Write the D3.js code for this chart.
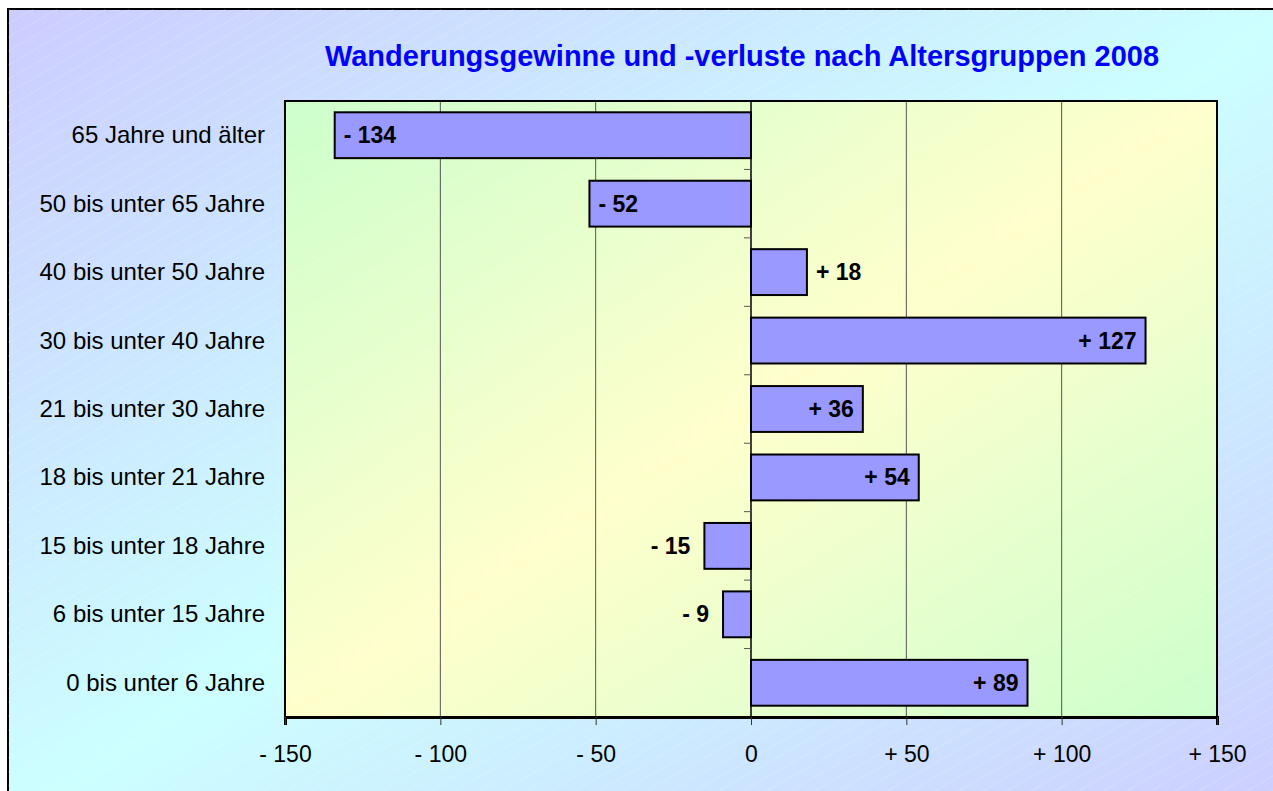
<!DOCTYPE html>
<html>
<head>
<meta charset="utf-8">
<script src="https://cdn.jsdelivr.net/npm/d3@7"></script>
<style>
  body { margin: 0; background: #fff; }
  text { font-family: "Liberation Sans", Arial, sans-serif; }
</style>
</head>
<body>
<div id="chart"></div>
<script>
// categories from top to bottom
var categories = ["65 Jahre und älter", "50 bis unter 65 Jahre", "40 bis unter 50 Jahre",
    "30 bis unter 40 Jahre", "21 bis unter 30 Jahre", "18 bis unter 21 Jahre",
    "15 bis unter 18 Jahre", "6 bis unter 15 Jahre", "0 bis unter 6 Jahre"];
var values = [-134, -52, 18, 127, 36, 54, -15, -9, 89];
var tickValues = [-150, -100, -50, 0, 50, 100, 150];
var title = "Wanderungsgewinne und -verluste nach Altersgruppen 2008";

function fmt(v) {
    if (v > 0) return "+ " + v;
    if (v < 0) return "- " + Math.abs(v);
    return "0";
}

function draw_chart(element) {
    var W = 1273, H = 791;
    var plot = {left: 285, right: 1217, top: 101, bottom: 717};

    var svg = d3.select("#" + element).append("svg").attr("width", W).attr("height", H);
    var defs = svg.append("defs");

    var bg = defs.append("linearGradient").attr("id", "bg")
        .attr("x1", "0").attr("y1", "0").attr("x2", "1").attr("y2", "1");
    bg.append("stop").attr("offset", "0").attr("stop-color", "#ccccff");
    bg.append("stop").attr("offset", "0.5").attr("stop-color", "#ccffff");
    bg.append("stop").attr("offset", "1").attr("stop-color", "#ccccff");

    var pg = defs.append("linearGradient").attr("id", "pg")
        .attr("x1", "0").attr("y1", "0").attr("x2", "1").attr("y2", "1");
    pg.append("stop").attr("offset", "0").attr("stop-color", "#ccffcc");
    pg.append("stop").attr("offset", "0.5").attr("stop-color", "#ffffcc");
    pg.append("stop").attr("offset", "1").attr("stop-color", "#ccffcc");

    var hatch = defs.append("pattern").attr("id", "hatch")
        .attr("patternUnits", "userSpaceOnUse").attr("width", 12).attr("height", 12)
        .attr("patternTransform", "rotate(-30)");
    hatch.append("line").attr("x1", 0).attr("y1", 0).attr("x2", 12).attr("y2", 0)
        .attr("stroke", "#ffffff").attr("stroke-width", 1).attr("stroke-opacity", 0.3);

    // chart area background
    svg.append("rect").attr("x", 8).attr("y", 9).attr("width", W + 20).attr("height", H + 20)
        .attr("fill", "url(#bg)").attr("stroke", "#000").attr("stroke-width", 2);
    svg.append("rect").attr("x", 8).attr("y", 9).attr("width", W).attr("height", H)
        .attr("fill", "url(#hatch)");

    svg.append("text")
        .attr("x", 742).attr("y", 66)
        .attr("text-anchor", "middle")
        .attr("font-size", 29).attr("font-weight", "bold")
        .attr("fill", "#0000ff")
        .text(title);

    var x = d3.scaleLinear().domain([-150, 150]).range([plot.left, plot.right]);
    var y = d3.scaleBand().domain(categories).range([plot.top, plot.bottom])
        .paddingInner(0.33).paddingOuter(0.165);

    // plot area
    svg.append("rect").attr("x", plot.left).attr("y", plot.top)
        .attr("width", plot.right - plot.left).attr("height", plot.bottom - plot.top)
        .attr("fill", "url(#pg)");
    svg.append("rect").attr("x", plot.left).attr("y", plot.top)
        .attr("width", plot.right - plot.left).attr("height", plot.bottom - plot.top)
        .attr("fill", "url(#hatch)");

    // gridlines
    svg.append("g").selectAll("line")
        .data(tickValues.filter(function (d) { return d !== 0 && Math.abs(d) !== 150; }))
        .enter().append("line")
        .attr("x1", function (d) { return x(d); }).attr("x2", function (d) { return x(d); })
        .attr("y1", plot.top).attr("y2", plot.bottom)
        .attr("stroke", "#555").attr("stroke-width", 1);

    svg.append("rect").attr("x", plot.left).attr("y", plot.top)
        .attr("width", plot.right - plot.left).attr("height", plot.bottom - plot.top)
        .attr("fill", "none").attr("stroke", "#000").attr("stroke-width", 2);

    // x axis
    var xAxis = svg.append("g")
        .attr("transform", "translate(0," + plot.bottom + ")")
        .call(d3.axisBottom(x).tickValues(tickValues).tickFormat(fmt).tickSize(8).tickPadding(21));
    xAxis.select(".domain").attr("stroke", "#000").attr("stroke-width", 3);
    xAxis.selectAll(".tick line").attr("stroke", "#333").attr("stroke-width", 1);
    xAxis.selectAll("text").attr("font-size", 23).attr("fill", "#000")
        .attr("font-family", "Liberation Sans, Arial, sans-serif");

    // zero axis with ticks between categories
    svg.append("line").attr("x1", x(0)).attr("x2", x(0))
        .attr("y1", plot.top).attr("y2", plot.bottom)
        .attr("stroke", "#000").attr("stroke-width", 1.5);
    var gap = y.step() - y.bandwidth();
    svg.append("g").selectAll("line")
        .data(categories.slice(1))
        .enter().append("line")
        .attr("x1", x(0) - 7).attr("x2", x(0))
        .attr("y1", function (d) { return y(d) - gap / 2; })
        .attr("y2", function (d) { return y(d) - gap / 2; })
        .attr("stroke", "#555").attr("stroke-width", 1);

    // category labels
    svg.append("g").selectAll("text")
        .data(categories)
        .enter().append("text")
        .attr("x", 265)
        .attr("y", function (d) { return y(d) + y.bandwidth() / 2 + 8; })
        .attr("text-anchor", "end")
        .attr("font-size", 24).attr("fill", "#000")
        .text(function (d) { return d; });

    var data = categories.map(function (c, i) { return {cat: c, v: values[i]}; });

    // bars
    svg.append("g").selectAll("rect")
        .data(data)
        .enter().append("rect")
        .attr("x", function (d) { return x(Math.min(0, d.v)); })
        .attr("y", function (d) { return y(d.cat); })
        .attr("width", function (d) { return Math.abs(x(d.v) - x(0)); })
        .attr("height", y.bandwidth())
        .attr("fill", "#9999ff")
        .attr("stroke", "#000").attr("stroke-width", 2);

    // value labels
    svg.append("g").selectAll("text")
        .data(data)
        .enter().append("text")
        .attr("y", function (d) { return y(d.cat) + y.bandwidth() / 2 + 8; })
        .attr("font-size", 23).attr("font-weight", "bold").attr("fill", "#000")
        .each(function (d) {
            var w = Math.abs(x(d.v) - x(0));
            var inside = w > 80;
            var el = d3.select(this);
            if (d.v < 0) {
                if (inside) el.attr("x", x(d.v) + 9).attr("text-anchor", "start");
                else el.attr("x", x(d.v) - 14).attr("text-anchor", "end");
            } else {
                if (inside) el.attr("x", x(d.v) - 9).attr("text-anchor", "end");
                else el.attr("x", x(d.v) + 9).attr("text-anchor", "start");
            }
        })
        .text(function (d) { return fmt(d.v); });
}

draw_chart("chart");
</script>
</body>
</html>
